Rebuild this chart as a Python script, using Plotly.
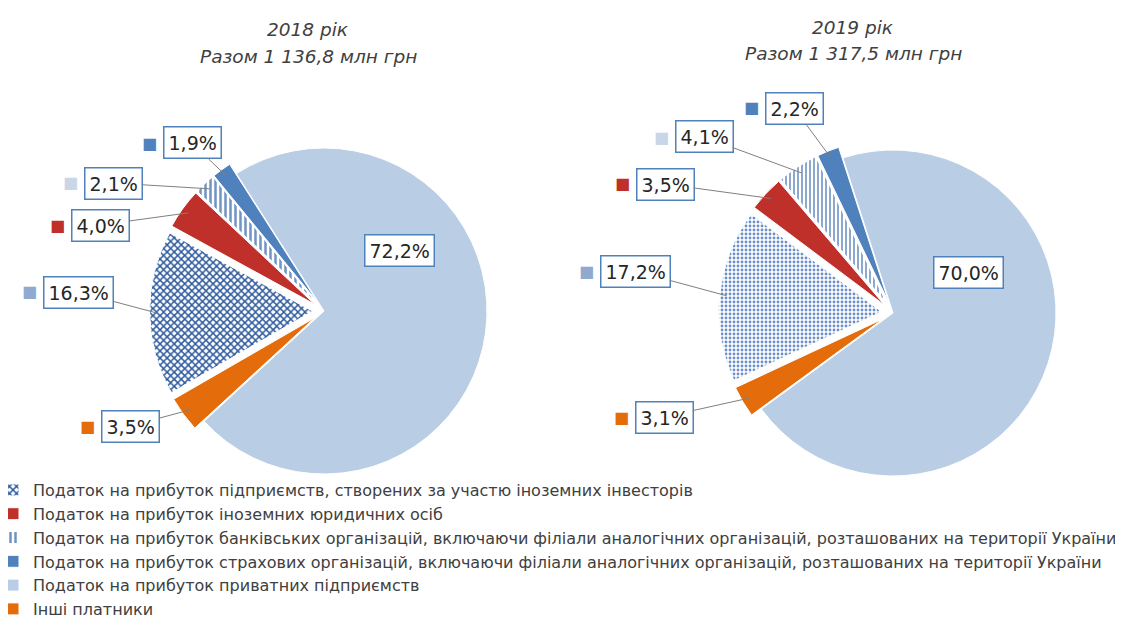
import math
import plotly.graph_objects as go

# ---------------- data ----------------
categories = [
    "Податок на прибуток підприємств, створених за участю іноземних інвесторів",
    "Податок на прибуток іноземних юридичних осіб",
    "Податок на прибуток банківських організацій, включаючи філіали аналогічних організацій, розташованих на території України",
    "Податок на прибуток страхових організацій, включаючи філіали аналогічних організацій, розташованих на території України",
    "Податок на прибуток приватних підприємств",
    "Інші платники",
]
shares_2018 = [16.3, 4.0, 2.1, 1.9, 72.2, 3.5]
shares_2019 = [17.2, 3.5, 4.1, 2.2, 70.0, 3.1]
years = ["2018 рік", "2019 рік"]
totals = ["Разом 1 136,8 млн грн", "Разом 1 317,5 млн грн"]

# ---------------- styles ----------------
W, H = 1123, 632
base_colors = ["#ffffff", "#c0302a", "#ffffff", "#4f81bd", "#b9cde5", "#e46c0a"]
key_colors = ["#8fa9cf", "#c0302a", "#c9d6e8", "#4f81bd", "#b9cde5", "#e46c0a"]
pattern_shapes = [["x", "", "|", "", "", ""], [".", "", "|", "", "", ""]]
pattern_fg = [
    ["#2f5b9e", "#c0302a", "#6f93c4", "#4f81bd", "#b9cde5", "#e46c0a"],
    ["#6d8fc6", "#c0302a", "#6f93c4", "#4f81bd", "#b9cde5", "#e46c0a"],
]
pattern_size = [5, 4]
pattern_solidity = [0.5, 0.4]
pulls = [0.07, 0.07, 0.07, 0.07, 0.0, 0.07]
R = 163
centers = [(316, 303), (885, 305)]
rotations = [240, 245]
# label box centres (px) for each chart, per category
label_pos = [
    [(70, 284), (92, 217), (105, 175), (184, 135), (391, 242), (122, 418)],
    [(627, 263), (657, 176), (696, 129), (786, 100), (960, 264), (656, 409)],
]
inside_label = 4  # index of slice whose label sits on the slice (no leader)
title_pos = [(300, 22, 49), (845, 19, 45)]

LBL_FS = 19
LBL_PAD = 4
LBL_BW = 1.5
FONT = "DejaVu Sans"


def px2paper(x, y):
    return x / W, 1 - y / H


def fmt(v):
    return f"{v:.1f}".replace(".", ",") + "%"


def text_width(s, fs):
    w = 0
    for ch in s:
        if ch.isdigit():
            w += 0.636 * fs
        elif ch == ",":
            w += 0.318 * fs
        elif ch == "%":
            w += 0.95 * fs
        else:
            w += 0.6 * fs
    return w


fig = go.Figure()
annotations = []
maxpull = max(pulls)
half = R * (1 + maxpull)

for k, shares in enumerate([shares_2018, shares_2019]):
    cx, cy = centers[k]
    x0, y1 = px2paper(cx - half, cy - half)
    x1, y0 = px2paper(cx + half, cy + half)
    fig.add_trace(go.Pie(
        labels=categories,
        values=shares,
        sort=False,
        direction="clockwise",
        rotation=rotations[k],
        pull=pulls,
        textinfo="none",
        hoverinfo="label+percent",
        showlegend=(k == 0),
        domain=dict(x=[x0, x1], y=[y0, y1]),
        marker=dict(
            colors=base_colors,
            line=dict(color="#ffffff", width=1),
            pattern=dict(shape=pattern_shapes[k], fgcolor=pattern_fg[k],
                         size=pattern_size[k], solidity=pattern_solidity[k]),
        ),
    ))

    total = sum(shares)
    cum = 0.0
    for i, v in enumerate(shares):
        mid = rotations[k] + (cum + v / 2) / total * 360.0
        cum += v
        th = math.radians(mid)
        rr = R * (1 + pulls[i]) * 0.96
        tx = cx + rr * math.sin(th)
        ty = cy - rr * math.cos(th)
        lx, ly = label_pos[k][i]
        txt = fmt(v)
        hw = (text_width(txt, LBL_FS) + 2 * LBL_PAD + 2 * LBL_BW) / 2
        common = dict(text=txt, font=dict(family=FONT, size=LBL_FS, color="#262626"),
                      bordercolor="#4f81bd", borderwidth=LBL_BW, borderpad=LBL_PAD,
                      bgcolor="#ffffff", xref="paper", yref="paper")
        if i == inside_label:
            px_, py_ = px2paper(lx, ly)
            annotations.append(dict(x=px_, y=py_, showarrow=False,
                                    xanchor="center", yanchor="middle", **common))
        else:
            px_, py_ = px2paper(tx, ty)
            annotations.append(dict(x=px_, y=py_, showarrow=True, arrowhead=0,
                                    arrowwidth=1, arrowcolor="#7f7f7f",
                                    ax=lx - tx, ay=ly - ty, standoff=0, **common))
        kx, ky = px2paper(lx - hw - 3, ly)
        annotations.append(dict(x=kx, y=ky, xref="paper", yref="paper",
                                xanchor="right", yanchor="middle",
                                showarrow=False, text="■",
                                font=dict(family=FONT, size=16, color=key_colors[i])))

    tx_, t1, t2 = title_pos[k]
    for txt, yy in [(years[k], t1), (totals[k], t2)]:
        ppx, ppy = px2paper(tx_, yy)
        annotations.append(dict(x=ppx, y=ppy, xref="paper", yref="paper", showarrow=False,
                                xanchor="center", yanchor="middle",
                                text=f"<i>{txt}</i>",
                                font=dict(family=FONT, size=18.5, color="#404040")))

fig.update_layout(
    width=W, height=H,
    margin=dict(l=0, r=0, t=0, b=0),
    paper_bgcolor="#ffffff",
    plot_bgcolor="#ffffff",
    annotations=annotations,
    legend=dict(
        x=0, y=1 - 465 / H, xanchor="left", yanchor="top",
        orientation="v", traceorder="normal", indentation=-15,
        font=dict(family=FONT, size=16, color="#404040"),
        bgcolor="rgba(0,0,0,0)", itemwidth=30,
    ),
)

fig.write_html("out.html")
